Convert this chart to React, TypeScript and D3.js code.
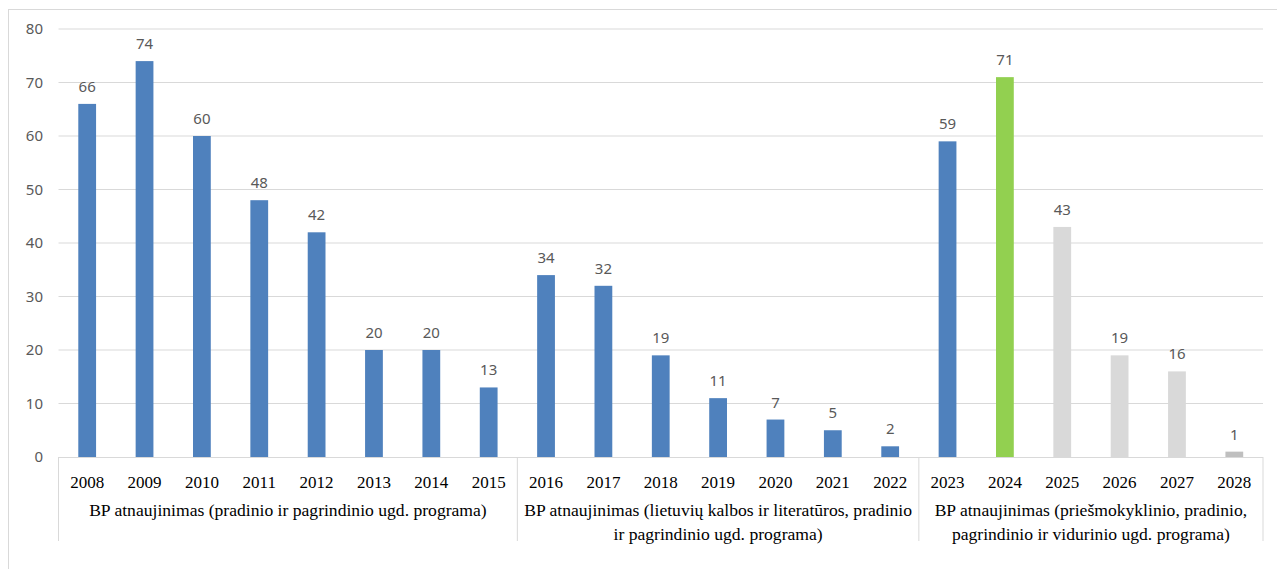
import React from 'react';
import * as d3 from 'd3';

const years = ['2008', '2009', '2010', '2011', '2012', '2013', '2014', '2015', '2016', '2017', '2018', '2019', '2020', '2021', '2022', '2023', '2024', '2025', '2026', '2027', '2028'];
const values = [66, 74, 60, 48, 42, 20, 20, 13, 34, 32, 19, 11, 7, 5, 2, 59, 71, 43, 19, 16, 1];
// colour kind per bar: actual, current, planned
const kinds = ['a', 'a', 'a', 'a', 'a', 'a', 'a', 'a', 'a', 'a', 'a', 'a', 'a', 'a', 'a', 'a', 'c', 'p', 'p', 'p', 'q'];
const groupLabels = [
  ['BP atnaujinimas (pradinio ir pagrindinio ugd. programa)'],
  ['BP atnaujinimas (lietuvių kalbos ir literatūros, pradinio', 'ir pagrindinio ugd. programa)'],
  ['BP atnaujinimas (priešmokyklinio, pradinio,', 'pagrindinio ir vidurinio ugd. programa)'],
];
const groupSpans = [[0, 8], [8, 15], [15, 21]];
const yTicks = [0, 10, 20, 30, 40, 50, 60, 70, 80];

const colors: Record<string, string> = { a: '#4F81BD', c: '#92D050', p: '#D9D9D9', q: '#BFBFBF' };

const W = 1277;
const H = 569;
const left = 58.5;
const right = 1263;
const top = 29;
const base = 457;

export default function App() {
  const x = d3.scaleBand<string>().domain(years).range([left, right]).padding(0);
  const y = d3.scaleLinear().domain([0, 80]).range([base, top]);
  const barW = x.bandwidth() * 0.31;
  const edge = (i: number) => (i < years.length ? (x(years[i]) as number) : right);

  return (
    <svg width={W} height={H} style={{ position: 'absolute', left: 0, top: 0 }}>
      <rect x={8.5} y={9.5} width={W + 10} height={H + 10} fill="#fff" stroke="#D9D9D9" />
      {yTicks.map((t) => (
        <g key={t}>
          {t > 0 && <line x1={left} x2={right} y1={y(t)} y2={y(t)} stroke="#D9D9D9" strokeWidth={1} />}
          <text x={43} y={y(t)} dy="0.35em" textAnchor="end" fontFamily="Noto Sans" fontSize={15} fill="#595959">
            {t}
          </text>
        </g>
      ))}
      {years.map((yr, i) => {
        const cx = (x(yr) as number) + x.bandwidth() / 2;
        return (
          <g key={yr}>
            <rect x={cx - barW / 2} y={y(values[i])} width={barW} height={base - y(values[i])} fill={colors[kinds[i]]} />
            <text x={cx} y={y(values[i]) - 12} textAnchor="middle" fontFamily="Noto Sans" fontSize={15} fill="#595959">
              {values[i]}
            </text>
            <text x={cx} y={488} textAnchor="middle" fontFamily="Liberation Serif" fontSize={17} fill="#000">
              {yr}
            </text>
          </g>
        );
      })}
      <line x1={left} x2={right} y1={base + 0.5} y2={base + 0.5} stroke="#D9D9D9" />
      {[0, 8, 15, 21].map((i) => (
        <line key={i} x1={edge(i)} x2={edge(i)} y1={base} y2={541} stroke="#D9D9D9" />
      ))}
      {groupSpans.map(([a, b], gi) => {
        const cx = (edge(a) + edge(b)) / 2;
        return (
          <text key={gi} textAnchor="middle" fontFamily="Liberation Serif" fontSize={17.6} fill="#000">
            {groupLabels[gi].map((ln, li) => (
              <tspan key={li} x={cx} y={516 + li * 24}>
                {ln}
              </tspan>
            ))}
          </text>
        );
      })}
    </svg>
  );
}
